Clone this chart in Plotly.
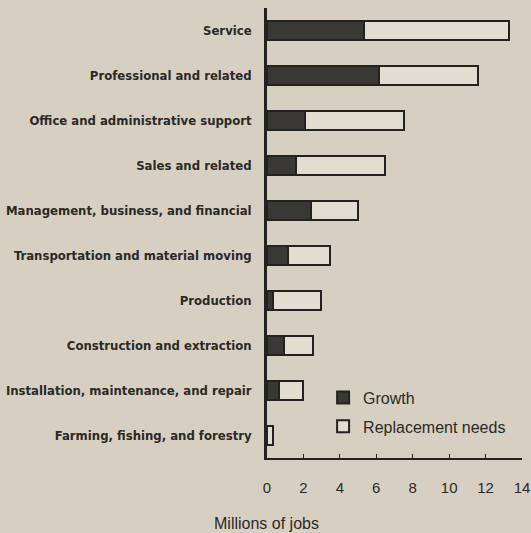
import plotly.graph_objects as go

categories = [
    "Service",
    "Professional and related",
    "Office and administrative support",
    "Sales and related",
    "Management, business, and financial",
    "Transportation and material moving",
    "Production",
    "Construction and extraction",
    "Installation, maintenance, and repair",
    "Farming, fishing, and forestry",
]
growth = [5.3, 6.15, 2.1, 1.6, 2.4, 1.15, 0.33, 0.96, 0.64, 0.0]
replacement = [8.0, 5.45, 5.4, 4.9, 2.57, 2.31, 2.62, 1.54, 1.31, 0.33]
tick_vals = [0, 2, 4, 6, 8, 10, 12, 14]

bg = "#d7d0c2"
dark = "#3a3834"
light = "#e3ddd1"
line_c = "#232220"

fig = go.Figure()
fig.add_trace(go.Bar(
    y=categories, x=growth, orientation="h", name="Growth", legendgroup="g",
    marker=dict(color=dark, line=dict(color=line_c, width=1.5)), width=0.42,
))
fig.add_trace(go.Bar(
    y=categories, x=replacement, orientation="h", name="Replacement needs", legendgroup="r",
    marker=dict(color=light, line=dict(color=line_c, width=2)), width=0.42,
))

fig.update_layout(
    barmode="stack",
    width=531, height=533,
    margin=dict(l=267, r=9, t=8, b=75, autoexpand=False),
    paper_bgcolor=bg, plot_bgcolor=bg,
    font=dict(family="Liberation Sans, Arial, sans-serif", color="#2a2926"),
    showlegend=True,
    legend=dict(
        x=0.22, y=0.172, xanchor="left", yanchor="top",
        bgcolor="rgba(0,0,0,0)", font=dict(size=16, color="#2a2926"),
        traceorder="grouped", itemsizing="constant", tracegroupgap=5,
        itemwidth=30,
    ),
)
fig.update_xaxes(
    range=[0, 14], tickvals=tick_vals, showgrid=False, zeroline=False,
    showline=True, linecolor=line_c, linewidth=2, automargin=False,
    ticks="inside", ticklen=4, tickcolor=line_c,
    tickfont=dict(size=15, color="#2a2926"), ticklabelstandoff=15,
)
fig.update_yaxes(
    categoryorder="array", categoryarray=categories[::-1],
    range=[-0.5, 9.5], showgrid=False, zeroline=False, automargin=False,
    showline=True, linecolor=line_c, linewidth=2.5, ticks="",
    tickfont=dict(size=13, family="DejaVu Sans Condensed, Liberation Sans Narrow, sans-serif",
                  color="#2a2926", weight="bold"),
    ticklabelstandoff=10,
)
fig.add_annotation(
    text="Millions of jobs", xref="paper", yref="paper",
    x=-0.215, y=-0.145, xanchor="left", yanchor="middle", showarrow=False,
    font=dict(size=16, color="#2a2926"),
)
fig.write_html(
    "out.html",
    config={"displayModeBar": False},
    post_script="document.body.style.margin='0';document.body.style.background='%s';document.documentElement.style.overflow='hidden';" % bg,
)
